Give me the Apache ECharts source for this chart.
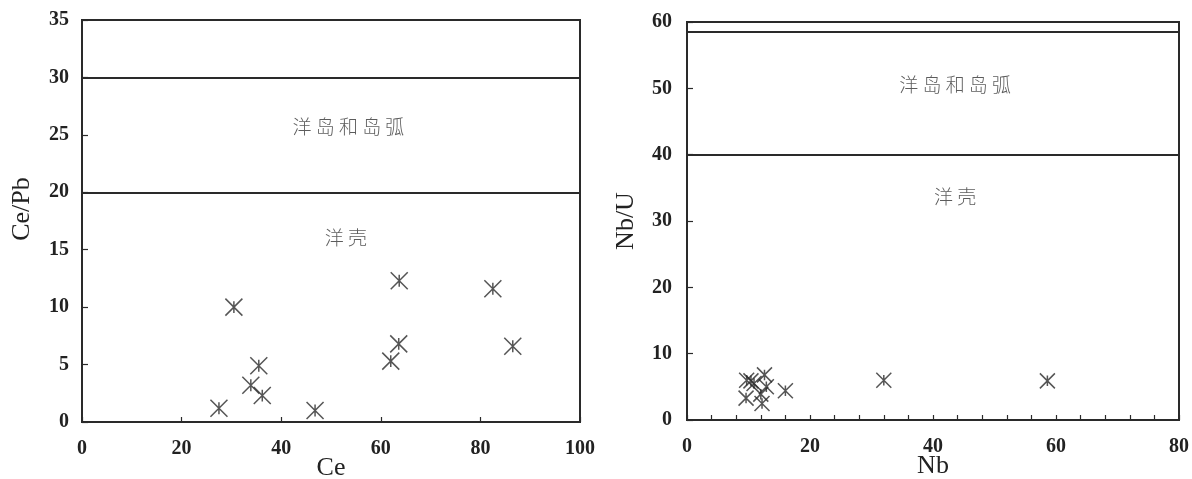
<!DOCTYPE html>
<html>
<head>
<meta charset="utf-8">
<script src="https://cdn.jsdelivr.net/npm/echarts@6/dist/echarts.min.js"></script>
<style>html,body{margin:0;padding:0;background:#fff;}#c{width:1192px;height:479px;}</style>
</head>
<body>
<div id="c"></div>
<script>
// Left panel: Ce vs Ce/Pb
const cePoints = [
  [30.5, 10.0], [63.7, 12.3], [82.5, 11.6], [63.6, 6.8], [62.0, 5.3],
  [86.5, 6.6], [35.5, 4.9], [33.9, 3.2], [36.2, 2.3], [27.5, 1.2], [46.8, 1.0]
];
const ceLines = [30, 20];
const ceLabels = [[53.5, 25.7, '洋岛和岛弧'], [53, 16.0, '洋壳']];

// Right panel: Nb vs Nb/U
const nbPoints = [
  [9.7, 6.0], [10.4, 5.9], [10.9, 5.5], [9.6, 3.3], [12.6, 6.8], [12.9, 5.0],
  [12.2, 2.5], [12.0, 3.9], [16.0, 4.4], [32.0, 6.0], [58.6, 5.9]
];
const nbLines = [58.6, 40];
const nbLabels = [[43.6, 50.6, '洋岛和岛弧'], [43.6, 33.6, '洋壳']];

const ink = '#2a2a2a';
const tickFont = { fontFamily: 'Liberation Serif', fontWeight: 'bold', fontSize: 20, color: '#222' };
const nameFont = { fontFamily: 'Liberation Serif', fontWeight: 'normal', fontSize: 26, color: '#222' };
const star = 'path://M0,0L10,10M10,0L0,10M5,1.5L5,8.5';

function scatter(idx, pts, size) {
  return {
    type: 'scatter', xAxisIndex: idx, yAxisIndex: idx, data: pts,
    symbol: star, symbolSize: size, symbolKeepAspect: true,
    itemStyle: { color: 'rgba(0,0,0,0)', borderColor: ink, borderWidth: 1.5 },
    z: 5
  };
}
function hlines(idx, vals) {
  return {
    type: 'line', xAxisIndex: idx, yAxisIndex: idx, data: [], silent: true,
    markLine: {
      symbol: 'none', silent: true, label: { show: false },
      lineStyle: { color: ink, width: 2, type: 'solid' },
      data: vals.map(v => ({ yAxis: v }))
    }
  };
}
function labels(idx, arr) {
  return {
    type: 'scatter', xAxisIndex: idx, yAxisIndex: idx, silent: true,
    data: arr.map(a => ({ value: [a[0], a[1]], name: a[2] })),
    symbolSize: 0,
    label: {
      show: true, position: 'inside', formatter: p => p.name.split('').join(' '),
      fontFamily: 'Noto Sans CJK SC', fontWeight: 300, fontSize: 19, color: '#333'
    }
  };
}
function xAx(idx, max, interval, name, every) {
  return {
    gridIndex: idx, type: 'value', min: 0, max: max, interval: interval,
    name: name, nameLocation: 'middle', nameGap: 33, nameMoveOverlap: false, nameTextStyle: nameFont,
    axisLine: { lineStyle: { color: ink, width: 2 } },
    axisTick: { show: true, inside: true, length: 5, lineStyle: { color: ink, width: 1.2 } },
    axisLabel: Object.assign({ margin: 17, formatter: v => (v % every === 0 ? String(v) : '') }, tickFont),
    splitLine: { show: false }
  };
}
function yAx(idx, max, interval, name, gap, margin, pad) {
  return {
    gridIndex: idx, type: 'value', min: 0, max: max, interval: interval,
    name: name, nameLocation: 'middle', nameGap: gap, nameMoveOverlap: false,
    nameTextStyle: Object.assign({ padding: [0, 0, 0, pad] }, nameFont),
    axisLine: { lineStyle: { color: ink, width: 2 } },
    axisTick: { show: true, inside: true, length: 6, lineStyle: { color: ink, width: 1.2 } },
    axisLabel: Object.assign({ margin: margin }, tickFont),
    splitLine: { show: false }
  };
}

const chart = echarts.init(document.getElementById('c'), null, { renderer: 'canvas' });
chart.setOption({
  backgroundColor: '#fff',
  animation: false,
  grid: [
    { left: 82, top: 20, width: 498, height: 402, containLabel: false, outerBoundsMode: 'none', show: true, borderColor: ink, borderWidth: 2, backgroundColor: 'transparent' },
    { left: 687, top: 22, width: 492, height: 398, containLabel: false, outerBoundsMode: 'none', show: true, borderColor: ink, borderWidth: 2, backgroundColor: 'transparent' }
  ],
  xAxis: [xAx(0, 100, 20, 'Ce', 20), xAx(1, 80, 4, 'Nb', 20)],
  yAxis: [yAx(0, 35, 5, 'Ce/Pb', 47, 13, 24), yAx(1, 60, 10, 'Nb/U', 48, 15, 0)],
  series: [
    hlines(0, ceLines), labels(0, ceLabels), scatter(0, cePoints, 17),
    hlines(1, nbLines), labels(1, nbLabels), scatter(1, nbPoints, 15)
  ]
});
</script>
</body>
</html>
